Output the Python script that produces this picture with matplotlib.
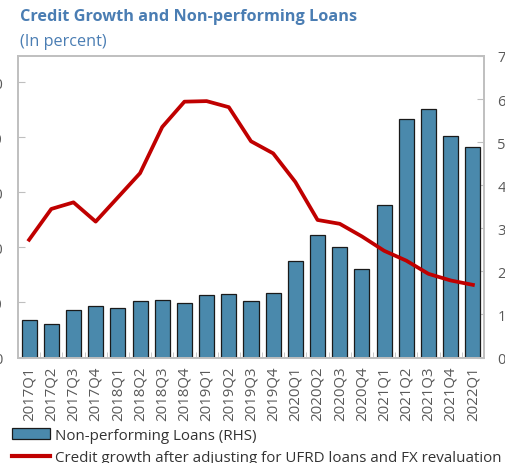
import numpy as np
import matplotlib
matplotlib.use('Agg')
import matplotlib.pyplot as plt
from matplotlib.patches import Patch
from matplotlib.lines import Line2D

plt.rcParams['font.family'] = ['Open Sans', 'DejaVu Sans']

# Quarterly data
quarters = ['2017Q1', '2017Q2', '2017Q3', '2017Q4',
            '2018Q1', '2018Q2', '2018Q3', '2018Q4',
            '2019Q1', '2019Q2', '2019Q3', '2019Q4',
            '2020Q1', '2020Q2', '2020Q3', '2020Q4',
            '2021Q1', '2021Q2', '2021Q3', '2021Q4',
            '2022Q1']
npl = [0.86, 0.77, 1.11, 1.19, 1.16, 1.32, 1.33, 1.27,
       1.44, 1.47, 1.31, 1.50, 2.23, 2.84, 2.56, 2.05,
       3.54, 5.53, 5.76, 5.15, 4.89]
credit_growth = [21.4, 27.0, 28.2, 24.7, 29.1, 33.5, 41.9, 46.5,
                 46.6, 45.5, 39.3, 37.1, 31.9, 25.0, 24.3, 22.0,
                 19.4, 17.6, 15.2, 14.0, 13.2]
left_ticks = [0, 10, 20, 30, 40, 50]
right_ticks = [0, 1, 2, 3, 4, 5, 6, 7]

blue = '#4A89AC'
red = '#C00000'
title_blue = '#4A7DB3'
grey_txt = '#595959'
grey_line = '#BFBFBF'

fig = plt.figure(figsize=(5.06, 4.64), dpi=100)
ax = fig.add_axes([18/506, 1 - 358.5/464, 466/506, 301.5/464])
ax2 = ax.twinx()

x = np.arange(len(quarters))
# bars on the right axis, line on the left axis
ax2.bar(x, npl, width=0.68, color=blue, edgecolor='#1a1a1a', linewidth=0.9, zorder=2)
ax.plot(x, credit_growth, color=red, linewidth=2.7, solid_joinstyle='round', zorder=3)
ax.set_zorder(ax2.get_zorder() + 1)
ax.patch.set_visible(False)

ax.set_xlim(-0.5, len(quarters) - 0.5)
ax.set_ylim(0, 54.8)
ax2.set_ylim(0, 7)
ax.set_yticks(left_ticks)
ax2.set_yticks(right_ticks)

ax.set_xticks(x)
ax.set_xticklabels(quarters, rotation=90)
ax.set_xticks(np.arange(-0.5, len(quarters), 1.0), minor=True)
ax.tick_params(axis='x', which='major', length=0, pad=6, labelsize=10.8, labelcolor=grey_txt)
ax.tick_params(axis='x', which='minor', direction='in', length=4, color=grey_line)
ax.tick_params(axis='y', direction='in', length=5, color=grey_line, pad=11,
               labelsize=10.5, labelcolor=grey_txt)
ax2.tick_params(axis='y', direction='in', length=5, color=grey_line, pad=9.5,
                labelsize=10.5, labelcolor=grey_txt)

for a in (ax, ax2):
    for s in a.spines.values():
        s.set_color(grey_line)
        s.set_linewidth(1.2)

fig.text(20/506, 1 - 17/464, 'Credit Growth and Non-performing Loans', fontsize=11.7,
         fontweight='bold', color=title_blue, va='center', ha='left')
fig.text(20/506, 1 - 42/464, '(In percent)', fontsize=11.7, color=title_blue,
         va='center', ha='left')

handles = [Patch(facecolor=blue, edgecolor='#1a1a1a', linewidth=0.9),
           Line2D([0], [0], color=red, linewidth=3)]
labels = ['Non-performing Loans (RHS)',
          'Credit growth after adjusting for UFRD loans and FX revaluation']
fig.legend(handles, labels, loc='upper left', bbox_to_anchor=(12/506, 1 - 429/464),
           frameon=False, fontsize=10.9, handlelength=2.5, handleheight=0.7,
           handletextpad=0.35, borderpad=0, borderaxespad=0, labelspacing=0.45,
           labelcolor='#333333')

fig.savefig('out.png', dpi=100)
